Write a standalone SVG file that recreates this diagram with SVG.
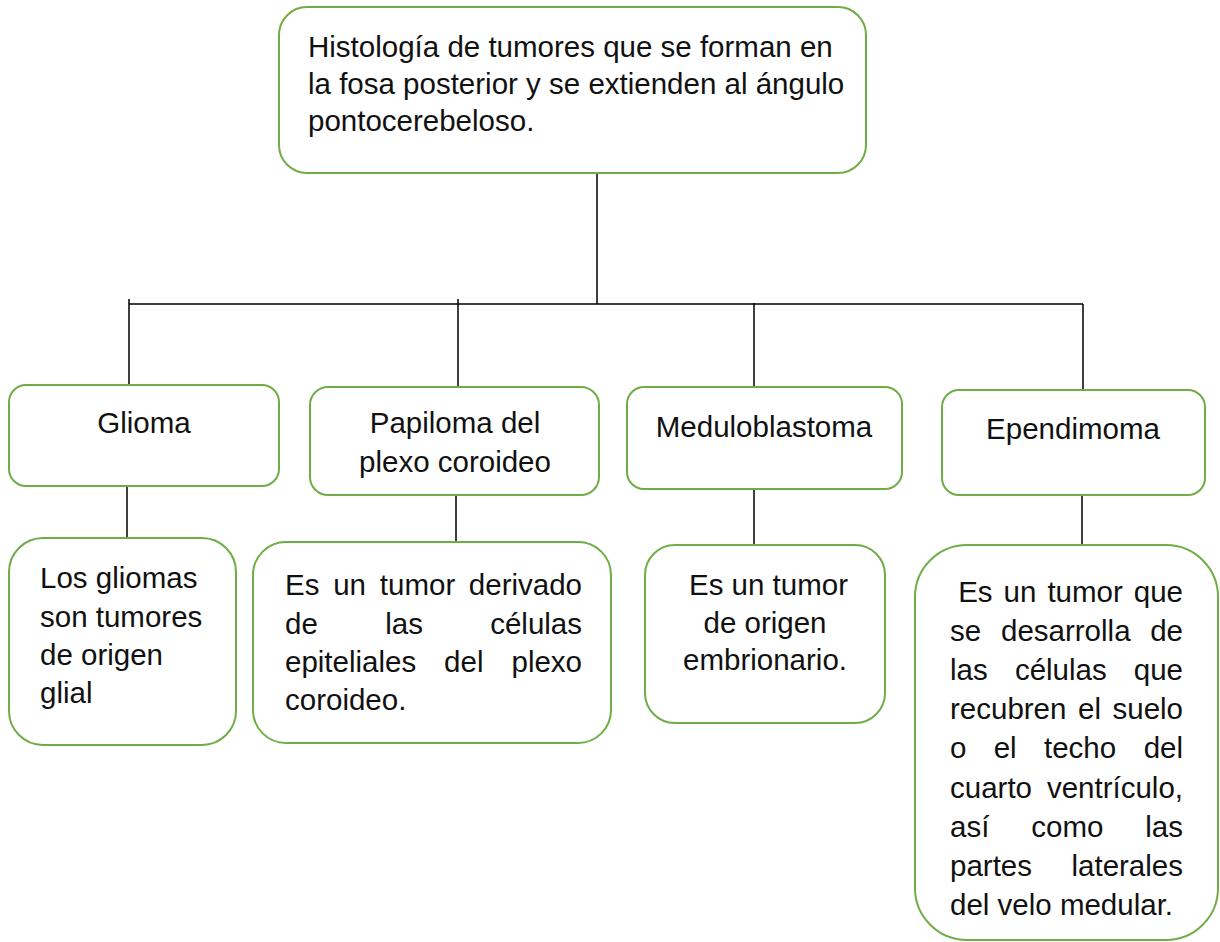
<svg xmlns="http://www.w3.org/2000/svg" width="1220" height="942" viewBox="0 0 1220 942">
<style>
.box{fill:#fff;stroke:#70AD47;stroke-width:2}
.ln{stroke:#000;stroke-width:1.5;fill:none}
text{font-family:"Liberation Sans",Arial,sans-serif;font-size:29.5px;fill:#111}
.c{text-anchor:middle}
.e{text-anchor:end}
</style>
<rect width="1220" height="942" fill="#fff"/>
<g id="connectors">
<path class="ln" d="M597,173V304M129,304H1083M129,299V385M458,299V387M754,303V387M1083,304V390"/>
<path class="ln" d="M127,486V538M456,490V542M754,489V545M1082,495V545"/>
</g>
<g id="root">
<rect class="box" x="279" y="7" width="587" height="166" rx="28"/>
<text x="308" y="57">Histología de tumores que se forman en</text>
<text x="308" y="94">la fosa posterior y se extienden al ángulo</text>
<text x="308" y="131">pontocerebeloso.</text>
</g>
<g id="glioma">
<rect class="box" x="9" y="385" width="270" height="101" rx="17"/>
<text class="c" x="144" y="433">Glioma</text>
</g>
<g id="papiloma">
<rect class="box" x="310" y="387" width="289" height="108" rx="18"/>
<text class="c" x="455" y="433">Papiloma del</text>
<text class="c" x="455" y="472">plexo coroideo</text>
</g>
<g id="meduloblastoma">
<rect class="box" x="627" y="387" width="275" height="102" rx="17"/>
<text class="c" x="764" y="437">Meduloblastoma</text>
</g>
<g id="ependimoma">
<rect class="box" x="942" y="390" width="263" height="105" rx="17"/>
<text class="c" x="1073" y="439">Ependimoma</text>
</g>
<g id="glioma-desc">
<rect class="box" x="9" y="538" width="227" height="207" rx="34"/>
<text x="40" y="588">Los gliomas</text>
<text x="40" y="627">son tumores</text>
<text x="40" y="665">de origen</text>
<text x="40" y="703">glial</text>
</g>
<g id="papiloma-desc">
<rect class="box" x="253" y="542" width="358" height="201" rx="33"/>
<text y="595"><tspan x="285">Es</tspan><tspan x="333.2">un</tspan><tspan x="379.8">tumor</tspan><tspan class="e" x="582">derivado</tspan></text>
<text y="633.5"><tspan x="285">de</tspan><tspan x="385.2">las</tspan><tspan class="e" x="582">células</tspan></text>
<text y="672"><tspan x="285">epiteliales</tspan><tspan x="444.1">del</tspan><tspan class="e" x="582">plexo</tspan></text>
<text x="285" y="710">coroideo.</text>
</g>
<g id="meduloblastoma-desc">
<rect class="box" x="645" y="545" width="240" height="178" rx="30"/>
<text class="c" x="768.5" y="595">Es un tumor</text>
<text class="c" x="765" y="633">de origen</text>
<text class="c" x="765" y="670">embrionario.</text>
</g>
<g id="ependimoma-desc">
<rect class="box" x="915" y="545" width="303" height="395" rx="52"/>
<text y="602"><tspan x="958.2">Es</tspan><tspan x="1003.6">un</tspan><tspan x="1047.4">tumor</tspan><tspan class="e" x="1183">que</tspan></text>
<text y="641.1"><tspan x="950">se</tspan><tspan x="1001">desarrolla</tspan><tspan class="e" x="1183">de</tspan></text>
<text y="680.2"><tspan x="950">las</tspan><tspan x="1014.9">células</tspan><tspan class="e" x="1183">que</tspan></text>
<text y="719.3"><tspan x="950">recubren</tspan><tspan x="1078">el</tspan><tspan class="e" x="1183">suelo</tspan></text>
<text y="758.4"><tspan x="950">o</tspan><tspan x="993.7">el</tspan><tspan x="1044">techo</tspan><tspan class="e" x="1183">del</tspan></text>
<text y="797.5"><tspan x="950">cuarto</tspan><tspan class="e" x="1183">ventrículo,</tspan></text>
<text y="836.6"><tspan x="950">así</tspan><tspan x="1031.3">como</tspan><tspan class="e" x="1183">las</tspan></text>
<text y="875.7"><tspan x="950">partes</tspan><tspan class="e" x="1183">laterales</tspan></text>
<text x="950" y="914.8">del velo medular.</text>
</g>
</svg>
